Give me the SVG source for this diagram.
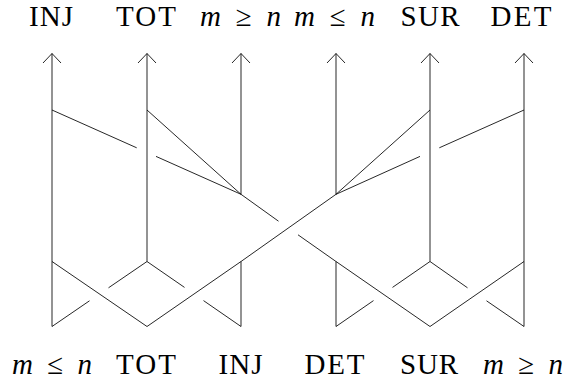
<svg xmlns="http://www.w3.org/2000/svg" width="570" height="383" viewBox="0 0 570 383">
<style>
.e{stroke:#000;stroke-width:0.85;fill:none;stroke-linecap:butt}
.t{font-family:"Liberation Serif","DejaVu Serif",serif;font-size:29px;fill:#000;text-anchor:middle}
.i{font-style:italic}
</style>
<defs>
<marker id="ar" markerUnits="userSpaceOnUse" orient="auto" markerWidth="24" markerHeight="24" viewBox="-12 -12 24 24" refX="0" refY="0" overflow="visible">
<path d="M-9.5,-9 L0,0 L-9.5,9" fill="none" stroke="#000" stroke-width="0.85"/>
</marker>
</defs>
<rect width="570" height="383" fill="#fff"/>
<g id="top-labels">
<g id="top-inj"><text class="t" x="51" y="26" textLength="44" lengthAdjust="spacing">INJ</text></g>
<g id="top-tot"><text class="t" x="146" y="26" textLength="60" lengthAdjust="spacing">TOT</text></g>
<g id="top-mgen"><text class="t" x="240.5" y="26" textLength="81" lengthAdjust="spacing"><tspan class="i">m</tspan> ≥ <tspan class="i">n</tspan></text></g>
<g id="top-mlen"><text class="t" x="334.5" y="26" textLength="81" lengthAdjust="spacing"><tspan class="i">m</tspan> ≤ <tspan class="i">n</tspan></text></g>
<g id="top-sur"><text class="t" x="430" y="26" textLength="59" lengthAdjust="spacing">SUR</text></g>
<g id="top-det"><text class="t" x="521" y="26" textLength="61" lengthAdjust="spacing">DET</text></g>
</g>
<g id="bottom-labels">
<g id="bot-mlen"><text class="t" x="52" y="374" textLength="80" lengthAdjust="spacing"><tspan class="i">m</tspan> ≤ <tspan class="i">n</tspan></text></g>
<g id="bot-tot"><text class="t" x="146" y="374" textLength="60" lengthAdjust="spacing">TOT</text></g>
<g id="bot-inj"><text class="t" x="240.5" y="374" textLength="44" lengthAdjust="spacing">INJ</text></g>
<g id="bot-det"><text class="t" x="334.5" y="374" textLength="60" lengthAdjust="spacing">DET</text></g>
<g id="bot-sur"><text class="t" x="429" y="374" textLength="58" lengthAdjust="spacing">SUR</text></g>
<g id="bot-mgen"><text class="t" x="523" y="374" textLength="80" lengthAdjust="spacing"><tspan class="i">m</tspan> ≥ <tspan class="i">n</tspan></text></g>
</g>
<g id="connectors">
<line class="e" x1="52" y1="326.5" x2="52" y2="53.5" marker-end="url(#ar)"/>
<line class="e" x1="147" y1="261.5" x2="147" y2="53.5" marker-end="url(#ar)"/>
<line class="e" x1="241" y1="194.3" x2="241" y2="53.5" marker-end="url(#ar)"/>
<line class="e" x1="336" y1="194.3" x2="336" y2="53.5" marker-end="url(#ar)"/>
<line class="e" x1="430" y1="261.5" x2="430" y2="53.5" marker-end="url(#ar)"/>
<line class="e" x1="524" y1="326.5" x2="524" y2="53.5" marker-end="url(#ar)"/>
<line class="e" x1="241" y1="261.5" x2="241" y2="326.5"/>
<line class="e" x1="336" y1="261.5" x2="336" y2="326.5"/>
<line class="e" x1="52" y1="110" x2="136.7" y2="147.8"/>
<line class="e" x1="156" y1="156.4" x2="241" y2="194.3"/>
<line class="e" x1="147" y1="110" x2="241" y2="194.3"/>
<line class="e" x1="524" y1="110" x2="439.3" y2="147.8"/>
<line class="e" x1="420" y1="156.4" x2="336" y2="194.3"/>
<line class="e" x1="430" y1="110" x2="336" y2="194.3"/>
<polyline class="e" points="147,326.5 241,261.5 336,194.3"/>
<line class="e" x1="241" y1="194.3" x2="278.5" y2="221.2"/>
<polyline class="e" points="298,234.8 336,261.5 430,326.5"/>
<line class="e" x1="52" y1="261.5" x2="147" y2="326.5"/>
<line class="e" x1="52" y1="326.5" x2="89.5" y2="300.8"/>
<line class="e" x1="108.5" y1="287.8" x2="147" y2="261.5"/>
<line class="e" x1="147" y1="261.5" x2="184.5" y2="287.4"/>
<line class="e" x1="203.5" y1="300.6" x2="241" y2="326.5"/>
<line class="e" x1="524" y1="261.5" x2="430" y2="326.5"/>
<line class="e" x1="524" y1="326.5" x2="486.5" y2="300.8"/>
<line class="e" x1="467.5" y1="287.8" x2="430" y2="261.5"/>
<line class="e" x1="430" y1="261.5" x2="392.5" y2="287.4"/>
<line class="e" x1="373.5" y1="300.6" x2="336" y2="326.5"/>
</g>
</svg>
